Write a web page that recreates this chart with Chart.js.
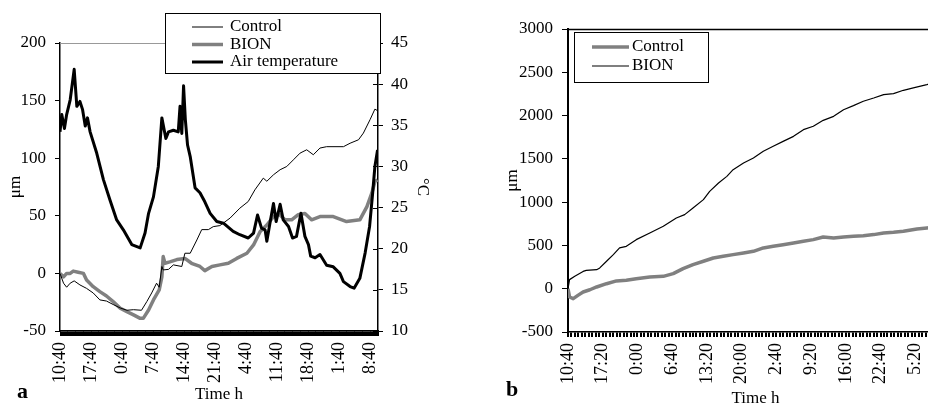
<!DOCTYPE html>
<html>
<head>
<meta charset="utf-8">
<script src="https://cdn.jsdelivr.net/npm/chart.js@4.4.1/dist/chart.umd.min.js"></script>
<style>
  html, body { margin: 0; padding: 0; background: #fff; overflow: hidden; }
  #page { position: relative; width: 928px; height: 405px; overflow: hidden; }
  #wrapA { position: absolute; left: 0; top: 0; }
  #wrapB { position: absolute; left: 464px; top: 0; }
  .tag { position: absolute; font: bold 22px "Liberation Serif", serif; line-height: 1; }
</style>
</head>
<body>
<div id="page">
  <div id="wrapA"><canvas id="chartA" width="464" height="405"></canvas></div>
  <div id="wrapB"><canvas id="chartB" width="484" height="412"></canvas></div>
  <div class="tag" style="left:17px; top:380px">a</div>
  <div class="tag" style="left:506px; top:378px">b</div>
</div>
<script>
Chart.defaults.font.family = '"Liberation Serif", "Times New Roman", serif';
Chart.defaults.font.size = 17;
Chart.defaults.color = '#000';

// tick labels (every 7 h on a, every 6:40 h on b)
const labelsA = ['10:40', '17:40', '0:40', '7:40', '14:40', '21:40', '4:40', '11:40', '18:40', '1:40', '8:40'];
const labelsB = ['10:40', '17:20', '0:00', '6:40', '13:20', '20:00', '2:40', '9:20', '16:00', '22:40', '5:20'];

// chart a: hours since start / value
const ctrlAH = [0, 0.8, 1.5, 2.3, 3.2, 4.5, 6.0, 7.5, 9.0, 10.5, 12.0, 13.6, 15.1, 16.6, 18.4, 19.6, 20.7, 21.8, 22.4, 23.0,
  23.3, 24.5, 25.6, 27.5, 28.2, 29.4, 30.9, 32.0, 33.5, 34.6, 36.1, 38.4, 40.6, 42.5, 44.0, 45.9, 46.7, 48.2, 49.7, 51.2,
  52.7, 54.2, 55.7, 57.2, 58.7, 60.2, 64.0, 65.5, 67.4, 68.5, 70.0, 71.1, 71.8];
const ctrlA = [0, -8.5, -12, -8.5, -6.5, -10, -13, -17, -23, -24, -27, -30, -32, -31.5, -32, -24.5, -17, -8.5, -12, 6,
  3, 3.5, 7.4, 6, 17.5, 17.5, 29, 38, 38, 40.6, 41.5, 48, 56.6, 62.4, 72.5, 82.7, 80, 85.6, 90, 92.8,
  98.6, 104.4, 107.3, 103, 108.8, 110, 110, 113, 116, 121.8, 133.4, 142.6, 141];

const bionAH = [0, 0.8, 1.5, 2.3, 3.0, 4.1, 5.3, 6.0, 7.5, 9.0, 10.5, 12.0, 13.6, 15.1, 16.6, 18.1, 18.8, 20.0, 21.1, 22.4,
  23.0, 23.3, 23.7, 24.8, 26.4, 28.2, 29.7, 31.6, 32.7, 34.3, 36.1, 38.0, 39.9, 42.2, 43.7, 45.2, 46.7, 48.2, 49.3, 50.8,
  52.3, 53.8, 55.3, 56.8, 58.7, 61.7, 64.7, 67.7, 69.3, 70.4, 71.1, 71.7];
const bionA = [0, -3, 0, 0, 2, 1, 0, -5.7, -11.5, -15.8, -19.6, -24.5, -30.3, -33.2, -36, -39, -39, -31.8, -23, -14.4,
  -3, 14.6, 8.8, 10, 12, 13, 8.8, 6, 2.4, 6, 7.4, 8.8, 13, 17.5, 24.7, 36.3, 42, 49.3, 52, 46.5,
  46.5, 51, 52, 46.5, 49.3, 49.3, 45, 46.5, 58, 69.6, 79.7, 81];

const airAH = [0, 0.4, 1.0, 1.5, 2.3, 3.2, 3.8, 4.5, 5.1, 5.7, 6.2, 6.8, 8.3, 9.8, 11.3, 12.8, 14.3, 16.2, 18.1, 19.2,
  20.0, 21.1, 22.2, 23.0, 23.9, 24.5, 25.6, 26.7, 27.1, 27.5, 27.9, 28.3, 28.8, 29.4, 30.5, 31.6, 32.7, 33.9, 35.4, 36.9,
  39.1, 40.6, 42.5, 43.7, 44.6, 45.5, 46.3, 46.7, 47.4, 48.2, 48.8, 49.7, 50.4, 51.6, 52.5, 53.4, 54.4, 55.3, 56.1, 56.6,
  57.6, 58.7, 60.2, 61.7, 63.2, 64.0, 65.5, 66.4, 67.7, 68.9, 69.9, 70.6, 71.1, 71.7];
const airA = [34.2, 36.3, 34.6, 36.3, 38.1, 41.8, 37.3, 37.9, 36.9, 34.9, 35.9, 34.2, 31.6, 28.4, 25.9, 23.5, 22.3, 20.5, 20.1, 21.9,
  24.3, 26.3, 30.0, 35.9, 33.4, 34.2, 34.4, 34.2, 37.3, 34.0, 39.8, 35.7, 32.6, 31.2, 27.4, 26.8, 25.7, 24.3, 23.3, 23.1,
  22.1, 21.7, 21.3, 21.9, 24.1, 22.5, 22.3, 20.9, 23.1, 25.5, 23.3, 25.4, 23.5, 22.7, 21.3, 21.5, 24.3, 21.5, 20.5, 19.1,
  18.9, 19.3, 18.0, 17.8, 17.0, 16.0, 15.4, 15.2, 16.4, 19.5, 22.7, 26.8, 30.0, 32.0];

// chart b: hours since start / value
const ctrlBH = [0, 0.3, 1.0, 1.9, 2.9, 4.2, 5.5, 7.4, 9.3, 11.2, 13.1, 15.7, 18.3, 20.2, 22.1, 24.0, 26.0, 27.9, 29.8, 31.7,
  33.7, 35.6, 37.5, 39.4, 41.3, 43.3, 45.2, 47.1, 49.0, 51.0, 52.9, 54.8, 56.7, 58.7, 60.6, 62.5, 64.4, 67.0, 68.9, 69.3];
const ctrlB = [0, -96, -115, -77, -38, -12, 20, 58, 90, 97, 116, 135, 143, 174, 232, 278, 317, 355, 374, 394,
  413, 432, 471, 490, 509, 529, 548, 567, 598, 586, 598, 606, 613, 625, 644, 652, 663, 690, 702, 704];

const bionBH = [0, 0.3, 1.3, 2.9, 3.5, 5.5, 6.1, 7.4, 8.7, 9.9, 11.2, 13.1, 15.7, 18.3, 20.8, 22.4, 24.0, 26.0, 27.2, 28.9,
  30.5, 31.7, 33.7, 35.6, 37.5, 39.4, 41.3, 43.3, 45.2, 47.1, 49.0, 51.0, 52.9, 54.8, 56.7, 58.7, 60.6, 62.5, 64.4, 66.3,
  68.9, 69.3];
const bionB = [0, 105, 143, 200, 212, 220, 240, 317, 394, 471, 490, 567, 644, 721, 817, 856, 933, 1029, 1125, 1221,
  1298, 1375, 1452, 1510, 1587, 1645, 1702, 1760, 1837, 1876, 1945, 1991, 2068, 2115, 2165, 2203, 2242, 2253, 2292, 2319,
  2357, 2365];

function pts(xs, ys) {
  return xs.map((x, i) => ({ x: x, y: ys[i] }));
}

// minor ticks every `step` hours, a label on every `every`-th one
function timeAxis(max, step, every, names, tickWidth, boxHeight, titleBottom) {
  return {
    type: 'linear', min: 0, max: max,
    afterBuildTicks(scale) {
      const out = [];
      for (let k = 0; k * step <= max + 1e-9; k++) out.push({ value: k * step });
      scale.ticks = out;
    },
    afterFit(scale) { scale.height = boxHeight; scale.paddingLeft = 0; scale.paddingRight = 0; },
    grid: { drawOnChartArea: false, tickLength: 5, color: '#000', lineWidth: tickWidth },
    border: { color: '#000', width: 1.5 },
    ticks: {
      autoSkip: false, minRotation: 90, maxRotation: 90, padding: 6,
      font: { size: 18 },
      callback: (v, i) => (i % every === 0 ? (names[i / every] || '') : '')
    },
    title: { display: true, text: 'Time h', padding: { top: 0, bottom: titleBottom } }
  };
}

const plain = v => String(v);

const topLine = {
  id: 'topLine',
  beforeDatasetsDraw(chart, args, o) {
    const { ctx, chartArea: a } = chart;
    ctx.save();
    ctx.strokeStyle = o.color;
    ctx.lineWidth = o.width;
    ctx.beginPath();
    ctx.moveTo(a.left, a.top + 0.5);
    ctx.lineTo(a.right, a.top + 0.5);
    ctx.stroke();
    ctx.restore();
  }
};

// right axis of chart a has ticks crossing the axis line
const innerTicks = {
  id: 'innerTicks',
  afterDatasetsDraw(chart) {
    const s = chart.scales.y1;
    if (!s) return;
    const ctx = chart.ctx;
    ctx.save();
    ctx.strokeStyle = '#000';
    ctx.lineWidth = 1;
    ctx.beginPath();
    s.ticks.forEach(t => {
      const y = Math.round(s.getPixelForValue(t.value)) + 0.5;
      ctx.moveTo(s.left - 5, y);
      ctx.lineTo(s.left, y);
    });
    ctx.stroke();
    ctx.restore();
  }
};

const boxLegend = {
  id: 'boxLegend',
  afterDraw(chart, args, o) {
    const ctx = chart.ctx;
    ctx.save();
    ctx.fillStyle = '#fff';
    ctx.fillRect(o.x, o.y, o.w, o.h);
    ctx.strokeStyle = '#000';
    ctx.lineWidth = 1;
    ctx.strokeRect(o.x + 0.5, o.y + 0.5, o.w, o.h);
    ctx.font = '17px "Liberation Serif"';
    ctx.textBaseline = 'middle';
    chart.data.datasets.forEach((ds, i) => {
      const y = o.y + o.row0 + i * o.rowGap;
      ctx.strokeStyle = ds.borderColor;
      ctx.lineWidth = ds.borderWidth;
      ctx.beginPath();
      ctx.moveTo(o.x + o.line0, y);
      ctx.lineTo(o.x + o.line1, y);
      ctx.stroke();
      ctx.fillStyle = '#000';
      ctx.fillText(ds.label, o.x + o.text0, y);
    });
    ctx.restore();
  }
};

const common = {
  responsive: false,
  animation: false,
  elements: { point: { radius: 0 }, line: { tension: 0, borderCapStyle: 'butt', borderJoinStyle: 'round' } }
};

new Chart(document.getElementById('chartA'), {
  type: 'line',
  data: {
    datasets: [
      { label: 'Control', data: pts(ctrlAH, ctrlA), borderColor: '#000', borderWidth: 1, yAxisID: 'y', order: 0 },
      { label: 'BION', data: pts(bionAH, bionA), borderColor: '#808080', borderWidth: 3.5, yAxisID: 'y', order: 2 },
      { label: 'Air temperature', data: pts(airAH, airA), borderColor: '#000', borderWidth: 3, yAxisID: 'y1', order: 1 }
    ]
  },
  plugins: [topLine, innerTicks, boxLegend],
  options: {
    ...common,
    layout: { padding: { top: 43, left: 0, right: 0, bottom: 0 } },
    plugins: {
      legend: { display: false },
      tooltip: { enabled: false },
      topLine: { color: '#999', width: 1 },
      boxLegend: { x: 165, y: 13, w: 215, h: 60, row0: 14, rowGap: 17.5, line0: 27, line1: 58, text0: 65 }
    },
    scales: {
      x: timeAxis(71.8, 0.2, 35, labelsA, 1, 74, 0),
      y: {
        position: 'left', min: -50, max: 200,
        afterFit(s) { s.width = 60; },
        ticks: { stepSize: 50, padding: 9, callback: plain },
        grid: { drawOnChartArea: false, tickLength: 5, color: '#000' },
        border: { color: '#000', width: 1.5 },
        title: { display: true, text: 'μm', padding: { top: 5, bottom: 0 } }
      },
      y1: {
        position: 'right', min: 10, max: 45,
        afterFit(s) { s.width = 86; },
        ticks: { stepSize: 5, padding: 8, callback: plain },
        grid: { drawOnChartArea: false, tickLength: 5, color: '#000' },
        border: { color: '#000', width: 1.5 },
        title: { display: true, text: '°C', padding: { top: 31, bottom: 0 } }
      }
    }
  }
});

new Chart(document.getElementById('chartB'), {
  type: 'line',
  data: {
    datasets: [
      { label: 'Control', data: pts(ctrlBH, ctrlB), borderColor: '#808080', borderWidth: 3.5 },
      { label: 'BION', data: pts(bionBH, bionB), borderColor: '#000', borderWidth: 1.2 }
    ]
  },
  plugins: [topLine, boxLegend],
  options: {
    ...common,
    layout: { padding: { top: 29, left: 0, right: 5, bottom: 0 } },
    plugins: {
      legend: { display: false },
      tooltip: { enabled: false },
      topLine: { color: '#000', width: 1.5 },
      boxLegend: { x: 110, y: 32, w: 134, h: 50, row0: 15, rowGap: 19, line0: 18, line1: 55, text0: 58 }
    },
    scales: {
      x: timeAxis(72, 2 / 3, 10, labelsB, 2, 80, 3),
      y: {
        min: -500, max: 3000,
        afterFit(s) { s.width = 104; },
        ticks: { stepSize: 500, padding: 9, callback: plain },
        grid: { drawOnChartArea: false, tickLength: 6, color: '#000' },
        border: { color: '#000', width: 2 },
        title: { display: true, text: 'μm', padding: { top: 38, bottom: 0 } }
      }
    }
  }
});
</script>
</body>
</html>
